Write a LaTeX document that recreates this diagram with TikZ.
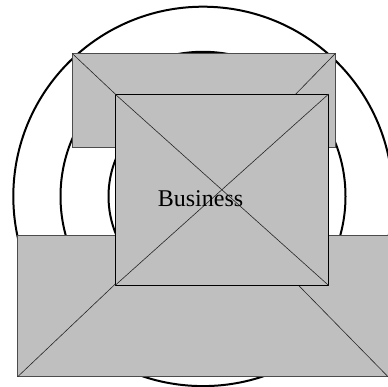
\documentclass[tikz,border=0pt]{standalone}
\usepackage{fontspec}
\setmainfont{Liberation Serif}
\begin{document}
\begin{tikzpicture}[x=1pt,y=-1pt,
  ring/.style={draw=black,line width=2pt},
  panel/.style={draw=black!70,fill=black!25,line width=0.8pt},
  cpanel/.style={draw=black,fill=black!25,line width=0.8pt},
  xline/.style={draw=black!85,line width=0.6pt},
  lbl/.style={font=\fontsize{24}{24}\selectfont,inner sep=0pt,anchor=base}]
\useasboundingbox (0,0) rectangle (388,387);
% circles
\coordinate (c) at (203,196.4);
\draw[ring] (c) circle[radius=189.7];
\draw[ring] (c) ellipse[x radius=142.5,y radius=144.6];
\draw[ring] (c) ellipse[x radius=94.5,y radius=97];
% top panel
\path[panel] (72,53.3) rectangle (335.5,147.7);
\coordinate (tl) at (72,53.3);
\coordinate (tr) at (335.5,53.3);
\draw[xline] (tl) -- (120,98.5);
\draw[xline] (tr) -- (291,99);
% bottom panel
\path[panel] (17.7,235) rectangle (392,376.7);
\coordinate (bl) at (17.7,376.7);
\coordinate (br) at (388,376.7);
\draw[xline] (bl) -- (120,279.6);
\draw[xline] (br) -- (293,279.7);
% centre panel
\path[cpanel] (115,94) rectangle (328.7,285.5);
\coordinate (ca) at (115,94);
\coordinate (cb) at (328.7,285.5);
\coordinate (cc) at (328.7,94);
\coordinate (cd) at (115,285.5);
\draw[xline] (ca) -- (cb);
\draw[xline] (cc) -- (cd);
\node[lbl] (t) at (200.5,206.7) {Business};
\end{tikzpicture}
\end{document}
